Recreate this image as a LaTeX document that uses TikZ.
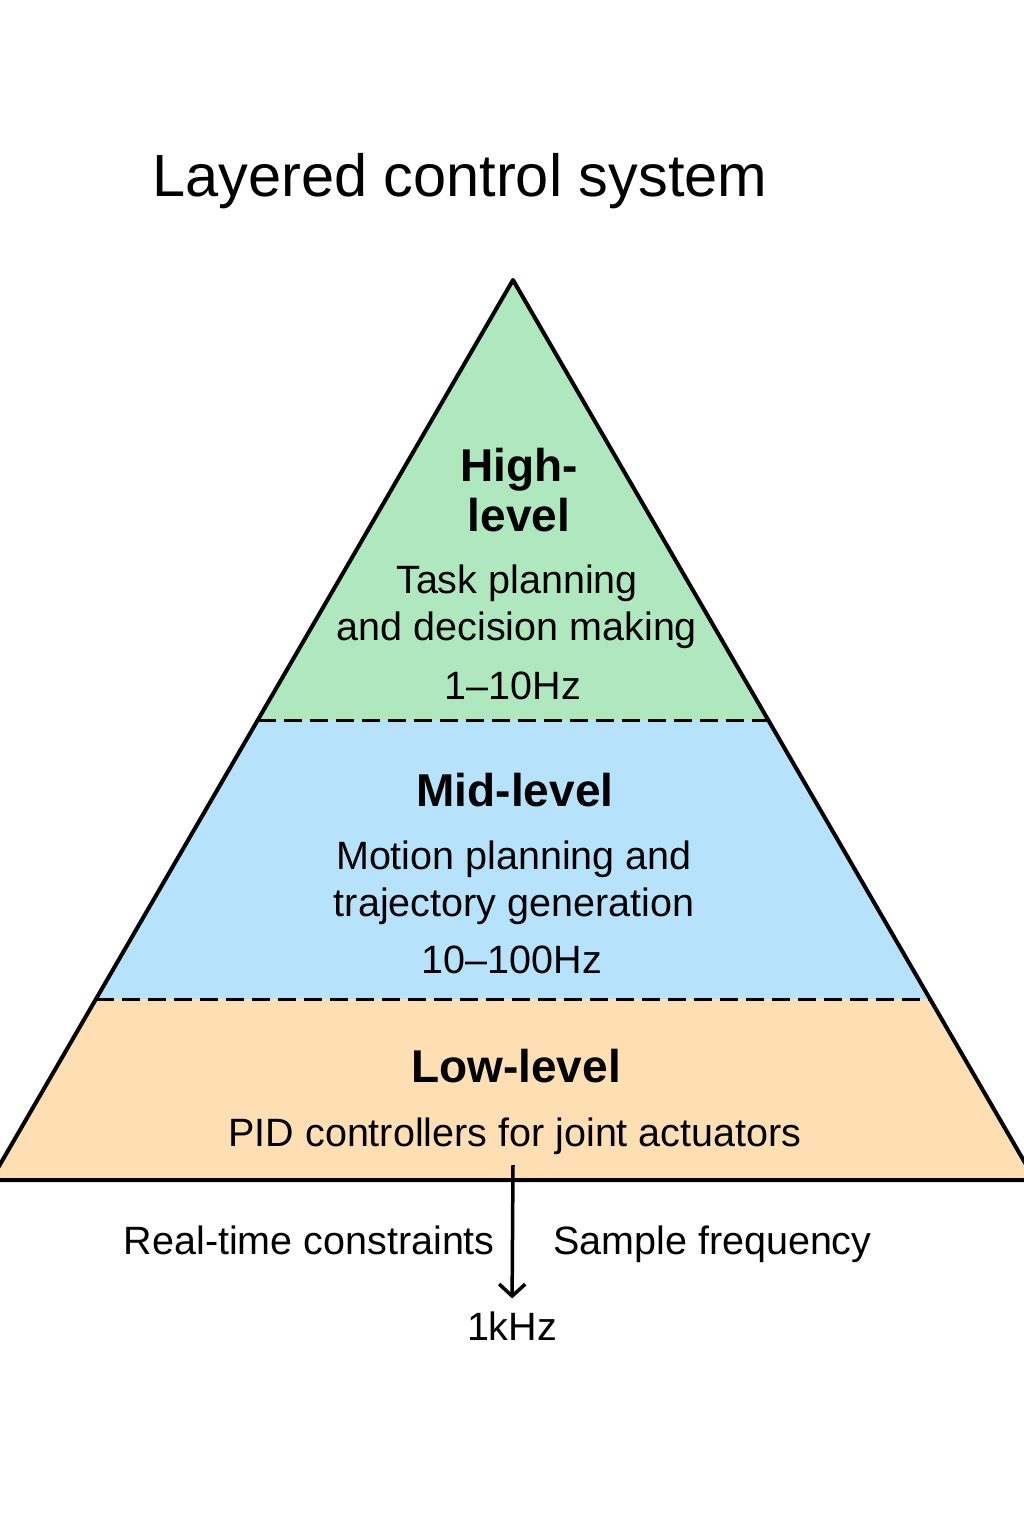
\documentclass[tikz,border=0pt]{standalone}
\usepackage{fontspec}
\setmainfont{Liberation Sans}
\usetikzlibrary{arrows.meta}
\definecolor{highgreen}{HTML}{AFE7BF}
\definecolor{midblue}{HTML}{B6E2FB}
\definecolor{lowpeach}{HTML}{FDDFB3}
\begin{document}
\begin{tikzpicture}[
  x=1pt,y=-1pt,
  >={Straight Barb[length=12pt,width=26pt]},
  layer/.style={font=\fontsize{46}{50}\selectfont\bfseries,align=center,inner sep=0pt},
  detail/.style={font=\fontsize{39.5}{47}\selectfont,align=center,inner sep=0pt},
  divider/.style={line width=3pt,dash pattern=on 18pt off 8pt},
  edge/.style={line width=4pt,line join=round}
]
  \useasboundingbox (0,0) rectangle (1024,1536);
  \fill[white] (0,0) rectangle (1024,1536);

  \coordinate (apex) at (513,280);
  \coordinate (hl) at (258,720);
  \coordinate (hr) at (768,720);
  \coordinate (ml) at (96,999);
  \coordinate (mr) at (930,999);
  \coordinate (bl) at (-9,1180);
  \coordinate (br) at (1035,1180);

  \begin{scope}
    \clip (0,0) rectangle (1024,1536);
    \fill[highgreen] (apex) -- (hr) -- (hl) -- cycle;
    \fill[midblue] (hl) -- (hr) -- (mr) -- (ml) -- cycle;
    \fill[lowpeach] (ml) -- (mr) -- (br) -- (bl) -- cycle;
    \draw[edge] (apex) -- (br) -- (bl) -- cycle;
    \draw[divider] (hl) -- (hr);
    \draw[divider] (ml) -- (mr);
  \end{scope}

  \node[anchor=base west,inner sep=0pt,font=\fontsize{59.5}{70}\selectfont] (title) at (152,196) {Layered control system};

  \node[layer] (high) at (519,490) {High-\\level};
  \node[detail] (hightask) at (517,607) {Task planning\\and decision making};
  \node[detail] (highrate) at (513,686) {1–10Hz};

  \node[layer] (mid) at (515,790) {Mid-level};
  \node[detail] (midtask) at (514,883) {Motion planning and\\trajectory generation};
  \node[detail] (midrate) at (512,960) {10–100Hz};

  \node[layer] (low) at (516,1066) {Low-level};
  \node[detail,anchor=base] (lowtask) at (515,1146) {PID controllers for joint actuators};

  \node[detail,anchor=base east] (realtime) at (495,1254) {Real-time constraints};
  \node[detail,anchor=base west] (sample) at (553,1254) {Sample frequency};
  \node[detail] (khz) at (512,1326) {1kHz};

  \coordinate (tap) at (513,1165);
  \draw[->,line width=3.5pt,shorten >=13pt] (tap) -- (khz.north);
\end{tikzpicture}
\end{document}
